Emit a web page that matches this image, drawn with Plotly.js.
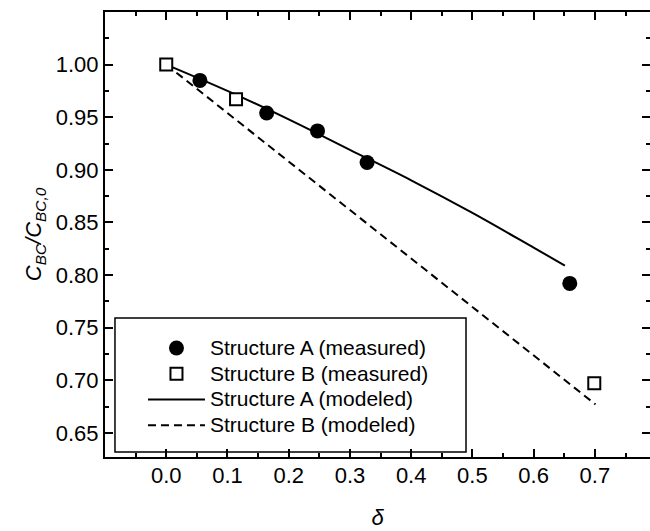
<!DOCTYPE html>
<html>
<head>
<meta charset="utf-8">
<script src="https://cdn.plot.ly/plotly-3.0.1.min.js"></script>
<style>html,body{margin:0;padding:0;background:#fff;}#chart{width:650px;height:531px;}</style>
</head>
<body>
<div id="chart"></div>
<script>
// Measured data
const deltaA = [0.055, 0.164, 0.247, 0.328, 0.659];
const ratioA = [0.985, 0.954, 0.937, 0.907, 0.792];
const deltaB = [0.0, 0.114, 0.699];
const ratioB = [1.000, 0.967, 0.697];
// Modeled curves
const deltaModA = [0.0, 0.1, 0.2, 0.3, 0.4, 0.5, 0.6, 0.651];
const ratioModA = [1.000, 0.975, 0.948, 0.919, 0.890, 0.859, 0.826, 0.809];
const deltaModB = [0.0, 0.1, 0.2, 0.3, 0.4, 0.5, 0.6, 0.701];
const ratioModB = [1.000, 0.954, 0.908, 0.862, 0.816, 0.770, 0.724, 0.677];
// Labels
const names = ['Structure A (measured)', 'Structure B (measured)', 'Structure A (modeled)', 'Structure B (modeled)'];
const xTicks = [0, 0.1, 0.2, 0.3, 0.4, 0.5, 0.6, 0.7];
const yTicks = [0.65, 0.70, 0.75, 0.80, 0.85, 0.90, 0.95, 1.00];

const FONT = 'Liberation Sans, Arial, sans-serif';
const big = s => '<span style="font-size:21px">' + s + '</span>';

const data = [
  {x: deltaModA, y: ratioModA, mode: 'lines', name: big(names[2]), legendrank: 3,
   line: {color: '#000', width: 2, shape: 'spline'}},
  {x: deltaModB, y: ratioModB, mode: 'lines', name: big(names[3]), legendrank: 4,
   line: {color: '#000', width: 2, dash: '8px,5px'}},
  {x: deltaA, y: ratioA, mode: 'markers', name: big(names[0]), legendrank: 1,
   marker: {symbol: 'circle', size: 15, color: '#000'}},
  {x: deltaB, y: ratioB, mode: 'markers', name: big(names[1]), legendrank: 2,
   marker: {symbol: 'square', size: 12, color: '#fff', line: {color: '#000', width: 2}}}
];

const axisCommon = {
  showgrid: false, zeroline: false, showline: true, linecolor: '#000', linewidth: 2,
  mirror: 'ticks', ticks: 'inside', ticklen: 8, tickwidth: 2, tickcolor: '#000',
  tickfont: {family: FONT, size: 22, color: '#000'}
};

const layout = {
  width: 650, height: 531,
  margin: {l: 105, r: 0, t: 12, b: 74},
  paper_bgcolor: '#fff', plot_bgcolor: '#fff',
  showlegend: true,
  xaxis: Object.assign({}, axisCommon, {
    range: [-0.1, 0.79], tickvals: xTicks, tickformat: '.1f', ticklabelstandoff: -2,
    minor: {dtick: 0.05, tick0: 0, ticks: 'inside', ticklen: 4, tickwidth: 2, tickcolor: '#000'},
    title: {text: '<i>δ</i>', font: {family: FONT, size: 22, color: '#000'}, standoff: 22}
  }),
  yaxis: Object.assign({}, axisCommon, {
    range: [0.627, 1.05], tickvals: yTicks, tickformat: '.2f', ticklabelstandoff: 0,
    minor: {dtick: 0.025, tick0: 0, ticks: 'inside', ticklen: 4, tickwidth: 2, tickcolor: '#000'},
    title: {text: '<i>C</i><sub><i>BC</i></sub><i>/C</i><sub><i>BC,0</i></sub>',
            font: {family: FONT, size: 22, color: '#000'}, standoff: 8}
  }),
  legend: {
    x: 0.0183, y: 0.2852, xanchor: 'left', yanchor: 'top',
    bgcolor: 'rgba(0,0,0,0)', borderwidth: 0, itemwidth: 57, indentation: 28,
    font: {family: FONT, size: 17.5, color: '#000'}, tracegroupgap: 0
  },
  shapes: [{
    type: 'rect', xref: 'paper', yref: 'paper', x0: 0.0183, x1: 0.6624, y0: 0.0112, y1: 0.3124,
    line: {color: '#000', width: 1.5}, fillcolor: '#fff', layer: 'below'
  }]
};

Plotly.newPlot('chart', data, layout, {displayModeBar: false, staticPlot: true});
</script>
</body>
</html>
